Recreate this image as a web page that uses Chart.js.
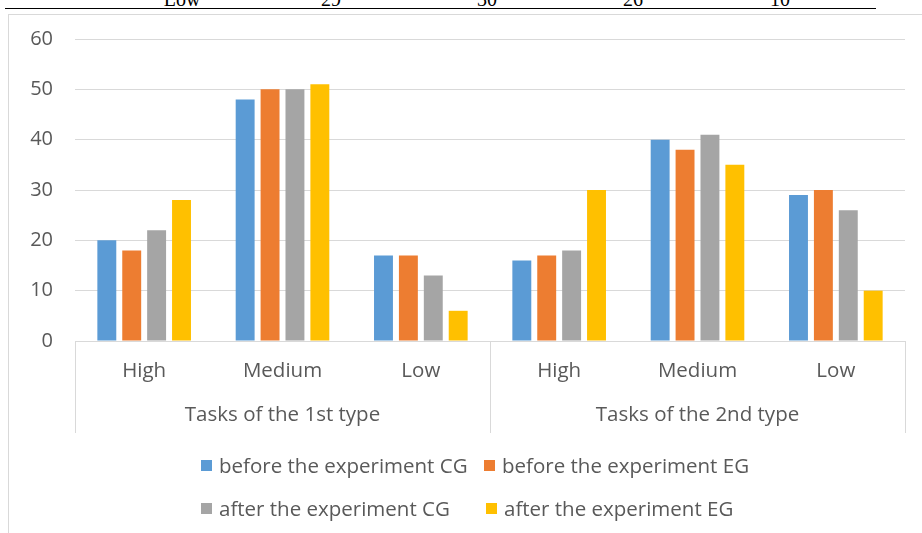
<!DOCTYPE html>
<html>
<head>
<meta charset="utf-8">
<script src="https://cdn.jsdelivr.net/npm/chart.js@4/dist/chart.umd.min.js"></script>
<style>
  html, body { margin: 0; padding: 0; background: #fff; }
  #wrap { position: relative; width: 922px; height: 533px; overflow: hidden; font-family: "Open Sans", "Noto Sans", sans-serif; }
  #frame { position: absolute; left: 8px; top: 14px; width: 930px; height: 540px; border: 1px solid #d9d9d9; box-sizing: border-box; }
  #tbl { position: absolute; left: 0; top: -11px; width: 922px; height: 20px; font-family: "Liberation Serif", serif; font-size: 20px; line-height: 20px; color: #000; }
  #tbl span { position: absolute; transform: translateX(-50%); }
  #tblline { position: absolute; left: 5px; top: 8px; width: 871px; height: 0; border-top: 1.5px solid #000; }
  canvas { position: absolute; left: 0; top: 0; }
  #legend { position: absolute; left: 0; top: 0; font-size: 20.5px; color: #595959; }
  .li { position: absolute; white-space: nowrap; display: flex; align-items: center; transform: translateY(-50%); }
  .sw { width: 11px; height: 11px; margin-right: 7px; display: inline-block; }
</style>
</head>
<body>
<div id="wrap">
  <div id="frame"></div>
  <div id="tbl"></div>
  <div id="tblline"></div>
  <canvas id="c" width="922" height="533"></canvas>
  <div id="legend"></div>
</div>
<script>
const categories = ["High", "Medium", "Low", "High", "Medium", "Low"];
const groups = ["Tasks of the 1st type", "Tasks of the 2nd type"];
const seriesNames = ["before the experiment CG", "before the experiment EG", "after the experiment CG", "after the experiment EG"];
const beforeCG = [20, 48, 17, 16, 40, 29];
const beforeEG = [18, 50, 17, 17, 38, 30];
const afterCG  = [22, 50, 13, 18, 41, 26];
const afterEG  = [28, 51, 6, 30, 35, 10];
const colors = ["#5b9bd5", "#ed7d31", "#a5a5a5", "#ffc000"];
const yTicks = [0, 10, 20, 30, 40, 50, 60];
const tableRow = ["Low", "29", "30", "26", "10"];
const tableX = [182, 331, 487, 633, 780];

const FONT = '"Open Sans", "Noto Sans", sans-serif';

// cropped table row at top
const tbl = document.getElementById('tbl');
tableRow.forEach((t, i) => {
  const s = document.createElement('span');
  s.textContent = t;
  s.style.left = tableX[i] + 'px';
  tbl.appendChild(s);
});

const seriesData = [beforeCG, beforeEG, afterCG, afterEG];

const groupPlugin = {
  id: 'groups',
  afterDraw(chart) {
    const ctx = chart.ctx;
    const xs = chart.scales.x;
    const area = chart.chartArea;
    const per = categories.length / groups.length;
    ctx.save();
    ctx.strokeStyle = '#d9d9d9';
    ctx.lineWidth = 1;
    const step = (xs.getPixelForValue(1) - xs.getPixelForValue(0));
    for (let g = 0; g <= groups.length; g++) {
      const x = Math.round(xs.getPixelForValue(g * per) - step / 2) + 0.5;
      ctx.beginPath();
      ctx.moveTo(x, area.bottom);
      ctx.lineTo(x, area.bottom + 92);
      ctx.stroke();
    }
    ctx.fillStyle = '#595959';
    ctx.font = '20.5px ' + FONT;
    ctx.textAlign = 'center';
    ctx.textBaseline = 'middle';
    groups.forEach((g, i) => {
      const x = (xs.getPixelForValue(i * per) + xs.getPixelForValue(i * per + per - 1)) / 2;
      ctx.fillText(g, x, area.bottom + 74);
    });
    ctx.restore();
  }
};

new Chart(document.getElementById('c'), {
  type: 'bar',
  data: {
    labels: categories,
    datasets: seriesNames.map((n, i) => ({
      label: n,
      data: seriesData[i],
      backgroundColor: colors[i],
      borderWidth: 0,
      categoryPercentage: 0.72,
      barPercentage: 0.76
    }))
  },
  options: {
    responsive: false,
    animation: false,
    devicePixelRatio: 1,
    layout: { padding: { top: 39, right: 17, left: 0, bottom: 0 } },
    plugins: { legend: { display: false }, tooltip: { enabled: false } },
    scales: {
      x: {
        grid: { display: false, drawTicks: false },
        border: { display: false },
        ticks: { color: '#595959', font: { size: 20.5, family: FONT }, padding: 18 },
        afterFit(s) { s.height = 192; }
      },
      y: {
        min: 0, max: 60,
        afterBuildTicks(s) { s.ticks = yTicks.map(v => ({ value: v })); },
        grid: { color: '#d9d9d9', drawTicks: false, lineWidth: 1 },
        border: { display: false },
        ticks: { color: '#595959', font: { size: 20, family: FONT }, padding: 22 },
        afterFit(s) { s.width = 75; }
      }
    }
  },
  plugins: [groupPlugin]
});

// legend
const legend = document.getElementById('legend');
const legPos = [[201, 465], [484, 465], [201, 508], [486, 508]];
seriesNames.forEach((n, i) => {
  const d = document.createElement('div');
  d.className = 'li';
  d.style.left = legPos[i][0] + 'px';
  d.style.top = legPos[i][1] + 'px';
  d.innerHTML = '<span class="sw" style="background:' + colors[i] + '"></span>';
  d.appendChild(document.createTextNode(n));
  legend.appendChild(d);
});
</script>
</body>
</html>
